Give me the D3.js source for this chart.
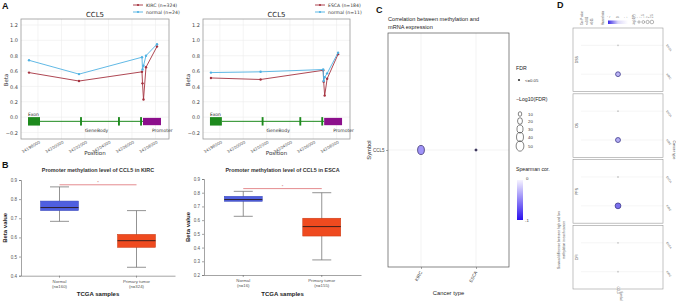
<!DOCTYPE html>
<html>
<head>
<meta charset="utf-8">
<script src="https://cdn.jsdelivr.net/npm/d3@7/dist/d3.min.js"></script>
<style>
  body { margin: 0; background: #fff; }
  svg { display: block; font-family: "Liberation Sans", Arial, sans-serif; }
</style>
</head>
<body>
<script>
// ---- A: beta value of each CpG probe along CCL5 ----
var probePos = [34197234, 34201489, 34206851, 34206894, 34206979, 34207191, 34208128];
var kircBeta = [0.58, 0.47, 0.59, 0.44, 0.23, 0.65, 0.92];
var kircNormalBeta = [0.74, 0.56, 0.78, 0.62, 0.67, 0.80, 0.95];
var escaBeta = [0.51, 0.49, 0.61, 0.46, 0.28, 0.50, 0.82];
var escaNormalBeta = [0.58, 0.59, 0.62, 0.47, 0.52, 0.57, 0.84];
var posTicks = [34198000, 34200000, 34202000, 34204000, 34206000, 34208000];
var betaTicks = [-0.2, 0.0, 0.2, 0.4, 0.6, 0.8, 1.0, 1.2];
var exons = [[34197149, 34198170], [34201580, 34201740], [34204810, 34204970], [34206690, 34206850]];
var promoter = [34206936, 34208468];

// ---- B: promoter methylation boxplots (min, q1, median, q3, max) ----
var boxGroups = ["Normal", "Primary tumor"];
var kircN = [160, 324];
var kircNormalBox = [0.684, 0.740, 0.756, 0.790, 0.864];
var kircTumorBox = [0.444, 0.548, 0.583, 0.616, 0.740];
var escaN = [16, 155];
var escaNormalBox = [0.628, 0.737, 0.750, 0.774, 0.810];
var escaTumorBox = [0.310, 0.484, 0.553, 0.614, 0.800];

// ---- C: methylation vs mRNA correlation ----
var corCancers = ["KIRC", "ESCA"];
var corGenes = ["CCL5"];
var corSpearman = [-0.42, -0.2];
var corLogFDR = [38, 2];
var fdrLegend = [10, 20, 30, 40, 50];

// ---- D: survival difference high vs low methylation ----
var survTypes = ["DSS", "OS", "PFS", "DFI"];
var survCancers = ["ESCA", "KIRC"];
var survLogP = [[0.4, 1.6], [0.3, 1.7], [0.5, 2.3], [0.2, 0.6]];
var survHR = [[0.1, -0.2], [0.05, -0.25], [0.1, -0.6], [0.0, 0.1]];

var svg = d3.select("body").append("svg")
    .attr("width", 676)
    .attr("height", 302);

function panelLetter(t, x, y) {
  svg.append("text").attr("x", x).attr("y", y).text(t)
    .attr("font-size", 9).attr("font-weight", "bold").attr("fill", "#111");
}

// line chart of beta values along the gene
function methPanel(x0, x1, tumorVals, normalVals, tumorName, normalName, legX) {
  var top = 19, bottom = 139;
  var x = d3.scaleLinear().domain([34196553, 34209149]).range([x0, x1]);
  var y = d3.scaleLinear().domain([-0.285, 1.278]).range([bottom, top]);
  var g = svg.append("g").style("font-family", "'DejaVu Sans', sans-serif");

  g.append("g").selectAll("line").data(betaTicks).join("line")
    .attr("x1", x0).attr("x2", x1).attr("y1", y).attr("y2", y)
    .attr("stroke", "#ececec").attr("stroke-width", 0.6);
  g.append("g").selectAll("line").data(posTicks).join("line")
    .attr("x1", x).attr("x2", x).attr("y1", top).attr("y2", bottom)
    .attr("stroke", "#ececec").attr("stroke-width", 0.6);
  g.append("rect").attr("x", x0).attr("y", top)
    .attr("width", x1 - x0).attr("height", bottom - top)
    .attr("fill", "none").attr("stroke", "#9a9a9a").attr("stroke-width", 0.8);

  var yAx = g.append("g").attr("transform", "translate(" + x0 + ",0)")
    .call(d3.axisLeft(y).tickValues(betaTicks).tickSize(0).tickPadding(3)
      .tickFormat(d => d3.format(".1f")(d).replace("-", "\u2212")));
  yAx.select(".domain").remove();
  yAx.selectAll("text").attr("font-size", 5).attr("fill", "#444")
    .style("font-family", "'DejaVu Sans', sans-serif");

  var xAx = g.append("g").attr("transform", "translate(0," + bottom + ")")
    .call(d3.axisBottom(x).tickValues(posTicks).tickSize(0).tickFormat(d3.format("d")));
  xAx.select(".domain").remove();
  xAx.selectAll("text").attr("font-size", 4).attr("fill", "#555")
    .style("font-family", "'DejaVu Sans', sans-serif")
    .attr("text-anchor", "end").attr("dy", 0).attr("y", 0)
    .attr("transform", "translate(2,4) rotate(-30)");

  g.append("text").attr("x", (x0 + x1) / 2).attr("y", 155).text("Position")
    .attr("text-anchor", "middle").attr("font-size", 5.5).attr("fill", "#333");
  g.append("text").attr("transform", "translate(" + (x0 - 13) + "," + 80 + ") rotate(-90)")
    .text("Beta").attr("text-anchor", "middle").attr("font-size", 5.5).attr("fill", "#333");
  g.append("text").attr("x", (x0 + x1) / 2).attr("y", 17).text("CCL5")
    .attr("text-anchor", "middle").attr("font-size", 7).attr("fill", "#222");

  // gene structure
  var gColor = "#1d8a1d";
  g.append("line").attr("x1", x(exons[0][1])).attr("x2", x(promoter[0]))
    .attr("y1", y(-0.055)).attr("y2", y(-0.055)).attr("stroke", gColor).attr("stroke-width", 1);
  g.append("g").selectAll("rect").data(exons).join("rect")
    .attr("x", d => x(d[0])).attr("width", d => Math.max(1.6, x(d[1]) - x(d[0])))
    .attr("y", y(0.0)).attr("height", y(-0.11) - y(0.0)).attr("fill", gColor);
  g.append("rect").attr("x", x(promoter[0])).attr("width", x(promoter[1]) - x(promoter[0]))
    .attr("y", y(-0.01)).attr("height", y(-0.105) - y(-0.01)).attr("fill", "#8c0f8c");
  g.append("text").attr("x", x(exons[0][0])).attr("y", y(0.01)).text("Exon")
    .attr("font-size", 4.5).attr("fill", "#222");
  g.append("text").attr("x", x(posTicks[2])).attr("y", 132).text("GeneBody")
    .attr("font-size", 4.5).attr("fill", "#333");
  g.append("text").attr("x", x(promoter[0]) + 9).attr("y", 132).text("Promoter")
    .attr("font-size", 4.5).attr("fill", "#333");

  // series lines
  var series = [
    {vals: tumorVals, color: "#a5323f", name: tumorName},
    {vals: normalVals, color: "#4fb1e2", name: normalName}
  ];
  var line = d3.line().x((d, i) => x(probePos[i])).y(d => y(d));
  series.forEach(function(s, k) {
    g.append("path").attr("d", line(s.vals)).attr("fill", "none")
      .attr("stroke", s.color).attr("stroke-width", 0.9);
    g.append("g").selectAll("circle").data(s.vals).join("circle")
      .attr("cx", (d, i) => x(probePos[i])).attr("cy", d => y(d))
      .attr("r", 1.2).attr("fill", s.color);
    var ly = 5 + k * 7;
    g.append("line").attr("x1", legX).attr("x2", legX + 10).attr("y1", ly).attr("y2", ly)
      .attr("stroke", s.color).attr("stroke-width", 0.9);
    g.append("circle").attr("cx", legX + 5).attr("cy", ly).attr("r", 1.1).attr("fill", s.color);
    g.append("text").attr("x", legX + 13).attr("y", ly + 1.7).text(s.name)
      .attr("font-size", 4.6).attr("fill", "#333");
  });
}

// boxplot of promoter methylation
function boxPanel(x0, x1, yDom, yRange, ticks, stats, ns, title, sigVal) {
  var x = d3.scaleBand().domain(boxGroups).range([x0, x1]);
  var y = d3.scaleLinear().domain(yDom).range(yRange);
  var g = svg.append("g");
  var boxW = 38, capW = 19;
  var fills = ["#4f5fe0", "#ef4a1f"];
  var strokes = ["#3a48b8", "#c83812"];

  var yAx = g.append("g").attr("transform", "translate(" + x0 + ",0)")
    .call(d3.axisLeft(y).tickValues(ticks).tickSize(2).tickPadding(2).tickFormat(d3.format(".1f")));
  yAx.select(".domain").attr("stroke", "#666").attr("stroke-width", 0.6);
  yAx.selectAll("line").attr("stroke", "#666").attr("stroke-width", 0.6);
  yAx.selectAll("text").attr("font-size", 4.5).attr("fill", "#555");

  var xAx = g.append("g").attr("transform", "translate(0," + yRange[0] + ")")
    .call(d3.axisBottom(x).tickSize(2).tickSizeOuter(0).tickFormat(""));
  xAx.select(".domain").attr("stroke", "#666").attr("stroke-width", 0.6);
  xAx.selectAll("line").attr("stroke", "#666").attr("stroke-width", 0.6);

  boxGroups.forEach(function(name, i) {
    var s = stats[i], cx = x(name) + x.bandwidth() / 2;
    g.append("line").attr("x1", cx).attr("x2", cx).attr("y1", y(s[4])).attr("y2", y(s[0]))
      .attr("stroke", "#777").attr("stroke-width", 0.8);
    [s[0], s[4]].forEach(function(v) {
      g.append("line").attr("x1", cx - capW / 2).attr("x2", cx + capW / 2)
        .attr("y1", y(v)).attr("y2", y(v)).attr("stroke", "#777").attr("stroke-width", 0.8);
    });
    g.append("rect").attr("x", cx - boxW / 2).attr("width", boxW)
      .attr("y", y(s[3])).attr("height", y(s[1]) - y(s[3]))
      .attr("fill", fills[i]).attr("stroke", strokes[i]).attr("stroke-width", 0.5);
    g.append("line").attr("x1", cx - boxW / 2).attr("x2", cx + boxW / 2)
      .attr("y1", y(s[2])).attr("y2", y(s[2])).attr("stroke", "#2a1a1a").attr("stroke-width", 0.9);
    g.append("text").attr("x", cx).attr("y", yRange[0] + 7).text(name)
      .attr("text-anchor", "middle").attr("font-size", 4.3).attr("fill", "#555");
    g.append("text").attr("x", cx).attr("y", yRange[0] + 12).text("(n=" + ns[i] + ")")
      .attr("text-anchor", "middle").attr("font-size", 4.3).attr("fill", "#555");
  });

  var c0 = x(boxGroups[0]) + x.bandwidth() / 2, c1 = x(boxGroups[1]) + x.bandwidth() / 2;
  g.append("line").attr("x1", c0).attr("x2", c1).attr("y1", y(sigVal)).attr("y2", y(sigVal))
    .attr("stroke", "#e17f82").attr("stroke-width", 0.9);
  g.append("text").attr("x", (c0 + c1) / 2).attr("y", y(sigVal) - 0.5).text("*")
    .attr("text-anchor", "middle").attr("font-size", 4).attr("fill", "#c05050");

  g.append("text").attr("x", (c0 + c1) / 2).attr("y", 172).text(title)
    .attr("text-anchor", "middle").attr("font-size", 5.4).attr("font-weight", "bold").attr("fill", "#333");
  g.append("text").attr("x", (c0 + c1) / 2).attr("y", 296).text("TCGA samples")
    .attr("text-anchor", "middle").attr("font-size", 6).attr("font-weight", "bold").attr("fill", "#222");
  g.append("text").attr("transform", "translate(" + (x0 - 14) + "," + (yRange[0] + yRange[1]) / 2 + ") rotate(-90)")
    .text("Beta value").attr("text-anchor", "middle").attr("font-size", 6)
    .attr("font-weight", "bold").attr("fill", "#222");
}

panelLetter("A", 2, 9);
methPanel(21, 169, kircBeta, kircNormalBeta, "KIRC (n=324)", "normal (n=24)", 133);
methPanel(203, 350, escaBeta, escaNormalBeta, "ESCA (n=184)", "normal (n=11)", 315);

panelLetter("B", 2, 168);
boxPanel(21, 175, [0.4, 0.9], [275.7, 180], [0.4, 0.5, 0.6, 0.7, 0.8, 0.9],
  [kircNormalBox, kircTumorBox], kircN, "Promoter methylation level of CCL5 in KIRC", 0.875);
boxPanel(204, 361, [0.2, 0.9], [275, 179], [0.2, 0.3, 0.4, 0.5, 0.6, 0.7, 0.8, 0.9],
  [escaNormalBox, escaTumorBox], escaN, "Promoter methylation level of CCL5 in ESCA", 0.83);

// ---- C ----
panelLetter("C", 376, 13);
(function() {
  var L = 388, R = 509, T = 33, B = 267;
  var x = d3.scalePoint().domain(corCancers).range([L, R]).padding(0.6);
  var y = d3.scalePoint().domain(corGenes).range([T, B]).padding(0.5);
  var size = d3.scaleSqrt().domain([0, 50]).range([0, 5.2]);
  var color = d3.scaleLinear().domain([-1, 0]).range(["#2a10ee", "#f6f3ff"]);
  var g = svg.append("g");

  g.append("text").attr("x", L).attr("y", 21).text("Correlation between methylation and")
    .attr("font-size", 5.6).attr("fill", "#222");
  g.append("text").attr("x", L).attr("y", 29).text("mRNA expression")
    .attr("font-size", 5.6).attr("fill", "#222");

  g.append("g").selectAll("line").data(corCancers).join("line")
    .attr("x1", x).attr("x2", x).attr("y1", T).attr("y2", B)
    .attr("stroke", "#ebebeb").attr("stroke-width", 0.6);
  g.append("g").selectAll("line").data(corGenes).join("line")
    .attr("x1", L).attr("x2", R).attr("y1", y).attr("y2", y)
    .attr("stroke", "#ebebeb").attr("stroke-width", 0.6);
  g.append("rect").attr("x", L).attr("y", T).attr("width", R - L).attr("height", B - T)
    .attr("fill", "none").attr("stroke", "#555").attr("stroke-width", 0.7);

  var xAx = g.append("g").attr("transform", "translate(0," + B + ")")
    .call(d3.axisBottom(x).tickSize(2).tickPadding(2));
  xAx.select(".domain").remove();
  xAx.selectAll("line").attr("stroke", "#555").attr("stroke-width", 0.5);
  xAx.selectAll("text").attr("font-size", 4.5).attr("fill", "#444")
    .attr("text-anchor", "end").attr("dy", 0).attr("y", 0)
    .attr("transform", "translate(1,5) rotate(-62)");
  var yAx = g.append("g").attr("transform", "translate(" + L + ",0)")
    .call(d3.axisLeft(y).tickSize(2).tickPadding(1.5));
  yAx.select(".domain").remove();
  yAx.selectAll("line").attr("stroke", "#555").attr("stroke-width", 0.5);
  yAx.selectAll("text").attr("font-size", 4.5).attr("fill", "#444");

  g.append("text").attr("x", (L + R) / 2).attr("y", 295).text("Cancer type")
    .attr("text-anchor", "middle").attr("font-size", 5.8).attr("fill", "#222");
  g.append("text").attr("transform", "translate(371," + y("CCL5") + ") rotate(-90)")
    .text("Symbol").attr("text-anchor", "middle").attr("font-size", 5.8).attr("fill", "#222");

  g.append("g").selectAll("ellipse").data(corCancers).join("ellipse")
    .attr("cx", d => x(d)).attr("cy", y("CCL5"))
    .attr("ry", (d, i) => Math.max(1.1, size(corLogFDR[i])))
    .attr("rx", (d, i) => Math.max(1.1, size(corLogFDR[i]) * 0.75))
    .attr("fill", (d, i) => corLogFDR[i] > 5 ? color(corSpearman[i]) : "#333")
    .attr("stroke", "#2c2260").attr("stroke-width", 0.7);

  // legends
  var lx = 516;
  g.append("text").attr("x", lx).attr("y", 70).text("FDR").attr("font-size", 5.2).attr("fill", "#222");
  g.append("circle").attr("cx", lx + 3).attr("cy", 80).attr("r", 1.1).attr("fill", "#333");
  g.append("text").attr("x", lx + 9).attr("y", 81.6).text("<=0.05").attr("font-size", 4.3).attr("fill", "#333");
  g.append("text").attr("x", lx).attr("y", 101).text("\u2212Log10(FDR)").attr("font-size", 5.2).attr("fill", "#222");
  var ly = [114, 121, 129, 137, 146];
  g.append("g").selectAll("ellipse").data(fdrLegend).join("ellipse")
    .attr("cx", lx + 4).attr("cy", (d, i) => ly[i])
    .attr("ry", d => size(d)).attr("rx", d => size(d) * 0.75)
    .attr("fill", "none").attr("stroke", "#333").attr("stroke-width", 0.6);
  g.append("g").selectAll("text").data(fdrLegend).join("text")
    .attr("x", lx + 12).attr("y", (d, i) => ly[i] + 1.5).text(d => d)
    .attr("font-size", 4.3).attr("fill", "#333");

  g.append("text").attr("x", lx).attr("y", 171).text("Spearman cor.").attr("font-size", 5.2).attr("fill", "#222");
  var grad = svg.append("defs").append("linearGradient").attr("id", "spear")
    .attr("x1", 0).attr("x2", 0).attr("y1", 0).attr("y2", 1);
  grad.append("stop").attr("offset", 0).attr("stop-color", color(0));
  grad.append("stop").attr("offset", 0.5).attr("stop-color", color(-0.5));
  grad.append("stop").attr("offset", 1).attr("stop-color", color(-1));
  g.append("rect").attr("x", lx + 1).attr("y", 180).attr("width", 6).attr("height", 40)
    .attr("fill", "url(#spear)");
  g.append("text").attr("x", lx + 10).attr("y", 180).text("0").attr("font-size", 4.3).attr("fill", "#333");
  g.append("text").attr("x", lx + 9).attr("y", 222).text("-1").attr("font-size", 4.3).attr("fill", "#333");
})();

// ---- D ----
panelLetter("D", 557, 8);
(function() {
  var L = 573, R = 663;
  var fy = d3.scaleBand().domain(survTypes).range([28, 289]).paddingInner(0.035);
  var cy = d3.scalePoint().domain(survCancers).range([0, fy.bandwidth()]).padding(0.6);
  var sx = d3.scalePoint().domain(corGenes).range([L, R]).padding(0.5);
  var size = d3.scaleSqrt().domain([0, 3]).range([0, 3.3]);
  var color = d3.scaleLinear().domain([-1, 0, 1]).range(["#3a2ae8", "#dcd8f8", "#ffffff"]);
  var g = svg.append("g");

  survTypes.forEach(function(st, k) {
    var top = fy(st);
    g.append("g").selectAll("line").data(survCancers).join("line")
      .attr("x1", L + 8).attr("x2", R).attr("y1", d => top + cy(d)).attr("y2", d => top + cy(d))
      .attr("stroke", "#eeeeee").attr("stroke-width", 0.6);
    g.append("rect").attr("x", L).attr("y", top).attr("width", R - L).attr("height", fy.bandwidth())
      .attr("fill", "none").attr("stroke", "#999").attr("stroke-width", 0.6);
    g.append("text").attr("transform", "translate(" + (L + 5) + "," + (top + fy.bandwidth() / 2) + ") rotate(-90)")
      .text(st).attr("text-anchor", "middle").attr("font-size", 3.5).attr("fill", "#444");
    g.append("g").selectAll("circle").data(survCancers).join("circle")
      .attr("cx", sx("CCL5")).attr("cy", d => top + cy(d))
      .attr("r", (d, i) => survLogP[k][i] > 1.3 ? size(survLogP[k][i]) : 0.9)
      .attr("fill", (d, i) => survLogP[k][i] > 1.3 ? color(survHR[k][i]) : "#c8c8c8")
      .attr("stroke", (d, i) => survLogP[k][i] > 1.3 ? "#3d3a8c" : "none")
      .attr("stroke-width", 0.8);
    g.append("g").selectAll("text").data(survCancers).join("text")
      .attr("transform", d => "translate(" + (R + 3) + "," + (top + cy(d)) + ") rotate(55)")
      .text(d => d).attr("font-size", 2.8).attr("fill", "#666");
  });

  g.append("text").attr("transform", "translate(673,150) rotate(90)").text("Cancer type")
    .attr("text-anchor", "middle").attr("font-size", 3.5).attr("fill", "#444");
  g.append("text").attr("transform", "translate(560,240) rotate(-90)")
    .text("Survival difference between high and low")
    .attr("text-anchor", "middle").attr("font-size", 3.2).attr("fill", "#444");
  g.append("text").attr("transform", "translate(564.5,240) rotate(-90)")
    .text("methylation in each cancer")
    .attr("text-anchor", "middle").attr("font-size", 3.2).attr("fill", "#444");
  g.append("text").attr("transform", "translate(" + (sx("CCL5") - 1) + ",290) rotate(90)")
    .text("CCL5").attr("text-anchor", "middle").attr("font-size", 2.8).attr("fill", "#666");
  g.append("text").attr("transform", "translate(" + (sx("CCL5") + 2) + ",296) rotate(90)")
    .text("Symbol").attr("text-anchor", "middle").attr("font-size", 2.8).attr("fill", "#666");

  // legend strip at the top (rotated)
  var legTxt = [[583, "Cox P value"], [588, "<=0.05"], [593, ">0.05"], [604, "Hazard ratio"], [635, "-log10(P)"]];
  g.append("g").selectAll("text").data(legTxt).join("text")
    .attr("transform", d => "translate(" + d[0] + ",25) rotate(-90)")
    .text(d => d[1]).attr("font-size", 2.6).attr("fill", "#555");
  var grad = svg.append("defs").append("linearGradient").attr("id", "hrbar");
  grad.append("stop").attr("offset", 0).attr("stop-color", color(-1));
  grad.append("stop").attr("offset", 0.5).attr("stop-color", color(0));
  grad.append("stop").attr("offset", 1).attr("stop-color", color(1));
  g.append("rect").attr("x", 608).attr("y", 20.5).attr("width", 20).attr("height", 3.5).attr("fill", "url(#hrbar)");
  var hrTicks = [-1, 0, 1];
  g.append("g").selectAll("text").data(hrTicks).join("text")
    .attr("transform", (d, i) => "translate(" + (610 + i * 8.5) + ",18) rotate(-90)")
    .text(d => d).attr("font-size", 2.6).attr("fill", "#555");
  var pLeg = [1, 1.5, 2, 2.5];
  g.append("g").selectAll("circle").data(pLeg).join("circle")
    .attr("cx", (d, i) => 639 + i * 4.3).attr("cy", 22).attr("r", d => size(d) * 0.6)
    .attr("fill", "none").attr("stroke", "#444").attr("stroke-width", 0.4);
  g.append("g").selectAll("text").data(pLeg).join("text")
    .attr("transform", (d, i) => "translate(" + (640 + i * 4.3) + ",18) rotate(-90)")
    .text(d => d).attr("font-size", 2.6).attr("fill", "#555");
})();
</script>
</body>
</html>
